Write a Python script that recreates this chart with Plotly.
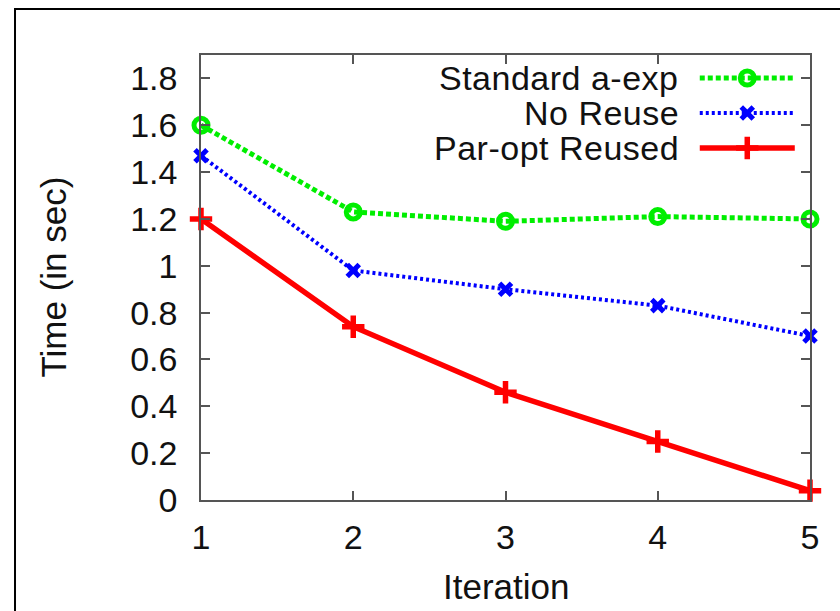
import plotly.graph_objects as go

# Iteration numbers and measured run times (seconds)
iterations = [1, 2, 3, 4, 5]
standard_a_exp = [1.60, 1.23, 1.19, 1.21, 1.20]
no_reuse = [1.47, 0.98, 0.90, 0.83, 0.70]
par_opt_reused = [1.20, 0.74, 0.46, 0.25, 0.04]

series_names = ["Standard a-exp", "No Reuse", "Par-opt Reused"]
y_ticks = [0, 0.2, 0.4, 0.6, 0.8, 1.0, 1.2, 1.4, 1.6, 1.8]
x_title = "Iteration"
y_title = "Time (in sec)"

FONT = "Liberation Sans, Arial, Helvetica, sans-serif"
GREEN = "#00ee00"
BLUE = "#0000ff"
RED = "#ff0000"
AXIS_COLOR = "#555555"
TEXT_COLOR = "#111111"

styles = [
    dict(line=dict(color=GREEN, width=5, dash="5px,3px"),
         marker=dict(symbol="circle-open", size=14, color=GREEN,
                     line=dict(color=GREEN, width=5))),
    dict(line=dict(color=BLUE, width=4, dash="3px,3px"),
         marker=dict(symbol="x-thin-open", size=12, color=BLUE,
                     line=dict(color=BLUE, width=5))),
    dict(line=dict(color=RED, width=5.5),
         marker=dict(symbol="cross-thin-open", size=16, color=RED,
                     line=dict(color=RED, width=5.5))),
]
series_values = [standard_a_exp, no_reuse, par_opt_reused]

fig = go.Figure()

for name, vals, st in zip(series_names, series_values, styles):
    fig.add_trace(go.Scatter(
        x=iterations, y=vals, name=name, mode="lines+markers",
        line=st["line"], marker=st["marker"], cliponaxis=False,
        showlegend=False,
    ))

# Key: label on the left, line sample with marker on the right
key_rows_y = [0.9483, 0.8697, 0.7910]
key_line_x = [0.819, 0.897, 0.975]
for name, st, ky in zip(series_names, styles, key_rows_y):
    fig.add_trace(go.Scatter(
        x=key_line_x, y=[ky] * 3, mode="lines", line=st["line"],
        xaxis="x2", yaxis="y2", showlegend=False, hoverinfo="skip",
        cliponaxis=False,
    ))
    fig.add_trace(go.Scatter(
        x=[key_line_x[1]], y=[ky], mode="markers", marker=st["marker"],
        xaxis="x2", yaxis="y2", showlegend=False, hoverinfo="skip",
        cliponaxis=False,
    ))
    fig.add_annotation(
        x=0.7865, y=ky, xref="paper", yref="paper",
        text=f'<span style="letter-spacing:0.5px">{name}</span>',
        showarrow=False, xanchor="right", yanchor="middle", borderpad=0,
        font=dict(family=FONT, size=34, color=TEXT_COLOR),
    )

axis_common = dict(
    showgrid=False, zeroline=False, showline=True, linecolor=AXIS_COLOR,
    linewidth=1.5, ticks="inside", ticklen=9, tickwidth=1.5,
    tickcolor=AXIS_COLOR, mirror="ticks",
    tickfont=dict(family=FONT, size=34, color=TEXT_COLOR),
    automargin=False,
)

fig.update_layout(
    width=840, height=611,
    margin=dict(l=201, r=30, t=55, b=111),
    paper_bgcolor="white", plot_bgcolor="white",
    font=dict(family=FONT, color=TEXT_COLOR),
    xaxis=dict(range=[1, 5], tickvals=iterations, ticklabelstandoff=6,
               **axis_common),
    yaxis=dict(range=[0, 1.9], tickvals=y_ticks, ticklabelstandoff=15,
               **axis_common),
    xaxis2=dict(range=[0, 1], overlaying="x", visible=False, fixedrange=True),
    yaxis2=dict(range=[0, 1], overlaying="y", visible=False, fixedrange=True),
    shapes=[dict(type="rect", xref="paper", yref="paper",
                 x0=-0.3054, x1=1.07, y0=-0.27, y1=1.1034,
                 line=dict(color="black", width=2), layer="below")],
)

fig.add_annotation(x=0.5, y=-0.1955, xref="paper", yref="paper",
                   text=x_title, showarrow=False, xanchor="center",
                   yanchor="middle",
                   font=dict(family=FONT, size=35, color=TEXT_COLOR))
fig.add_annotation(x=-0.243, y=0.5, xref="paper", yref="paper",
                   text=y_title, showarrow=False, textangle=-90,
                   xanchor="center", yanchor="middle",
                   font=dict(family=FONT, size=35, color=TEXT_COLOR))

fig.write_html("out.html")
